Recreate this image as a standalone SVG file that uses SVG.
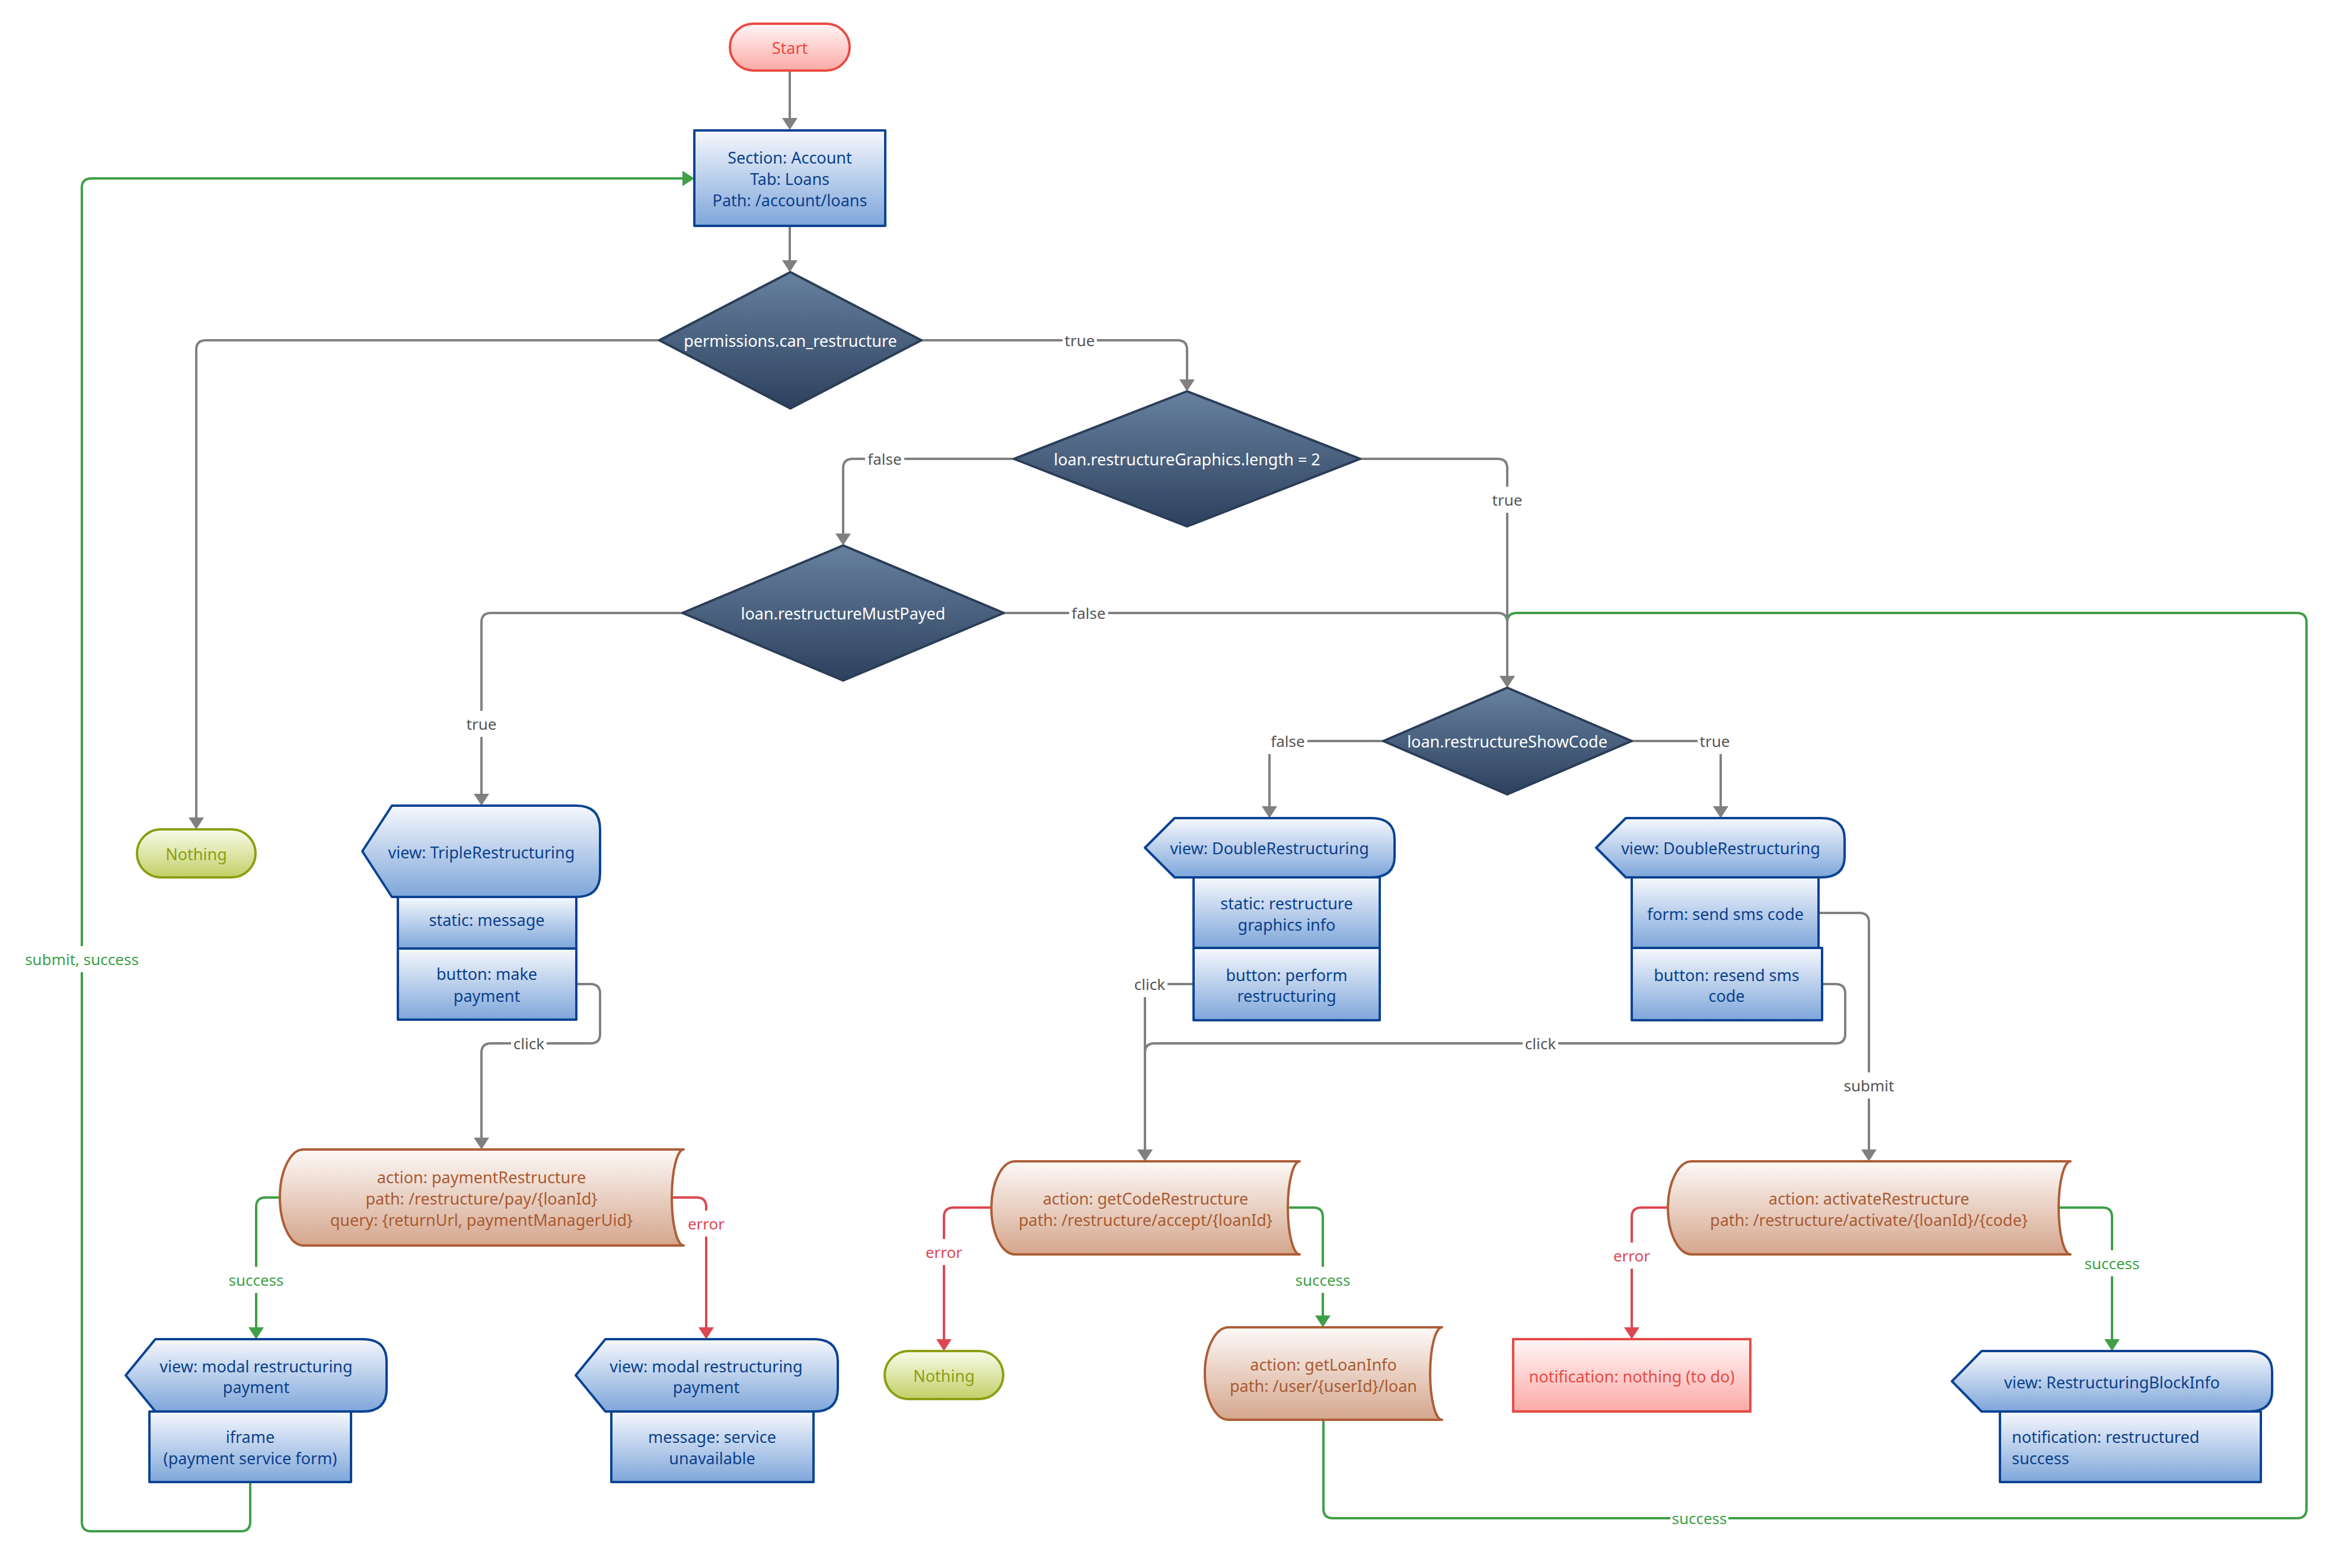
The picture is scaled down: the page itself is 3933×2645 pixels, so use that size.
<svg xmlns="http://www.w3.org/2000/svg" width="3933" height="2645" viewBox="0 0 3933 2645">
  <defs>
    <linearGradient id="gBlue" x1="0" y1="0" x2="0" y2="1">
      <stop offset="0" stop-color="#f6f8fd"/>
      <stop offset="1" stop-color="#7ea6da"/>
    </linearGradient>
    <linearGradient id="gRed" x1="0" y1="0" x2="0" y2="1">
      <stop offset="0" stop-color="#fff6f6"/>
      <stop offset="1" stop-color="#fbaaa6"/>
    </linearGradient>
    <linearGradient id="gOlive" x1="0" y1="0" x2="0" y2="1">
      <stop offset="0" stop-color="#f9fbea"/>
      <stop offset="1" stop-color="#c1d066"/>
    </linearGradient>
    <linearGradient id="gSlate" x1="0" y1="0" x2="0" y2="1">
      <stop offset="0" stop-color="#67819f"/>
      <stop offset="1" stop-color="#2d415e"/>
    </linearGradient>
    <linearGradient id="gBrown" x1="0" y1="0" x2="0" y2="1">
      <stop offset="0" stop-color="#fdf9f7"/>
      <stop offset="1" stop-color="#d5a68d"/>
    </linearGradient>
    <marker id="aGray" markerUnits="userSpaceOnUse" markerWidth="22" markerHeight="28" refX="4" refY="14" orient="auto">
      <path d="M0,1 L20,14 L0,27 Z" fill="#808080"/>
    </marker>
    <marker id="aGreen" markerUnits="userSpaceOnUse" markerWidth="22" markerHeight="28" refX="4" refY="14" orient="auto">
      <path d="M0,1 L20,14 L0,27 Z" fill="#3f9f47"/>
    </marker>
    <marker id="aRed" markerUnits="userSpaceOnUse" markerWidth="22" markerHeight="28" refX="4" refY="14" orient="auto">
      <path d="M0,1 L20,14 L0,27 Z" fill="#dd4752"/>
    </marker>
    <style>
      text { font-family: "Noto Sans", "Open Sans", "DejaVu Sans", sans-serif; font-size: 27px; text-anchor: middle; dominant-baseline: central; }
      .blue { fill: url(#gBlue); stroke: #0b4393; stroke-width: 4; stroke-linejoin: round; }
      .blueT { fill: #0b3f8a; }
      .start { fill: url(#gRed); stroke: #ea4a43; stroke-width: 4; }
      .startT { fill: #ea4a43; }
      .olive { fill: url(#gOlive); stroke: #8c9e12; stroke-width: 4; }
      .oliveT { fill: #8c9e12; }
      .dia { fill: url(#gSlate); stroke: #2b3d57; stroke-width: 4; stroke-linejoin: round; }
      .diaT { fill: #ffffff; }
      .act { fill: url(#gBrown); stroke: #ad5e37; stroke-width: 4; stroke-linejoin: round; }
      .actT { fill: #a85a33; }
      .err { fill: url(#gRed); stroke: #e84a45; stroke-width: 4; }
      .errT { fill: #e84a45; }
      .c { fill: none; stroke-width: 4; }
      .cg { stroke: #808080; }
      .cgr { stroke: #3f9f47; }
      .cr { stroke: #dd4752; }
      .lb { fill: #ffffff; }
      .lgT { fill: #555555; font-size: 26px; }
      .lgrT { fill: #3f9f47; font-size: 26px; }
      .lrT { fill: #dd4752; font-size: 26px; }
    </style>
  </defs>

  <rect x="0" y="0" width="3933" height="2645" fill="#ffffff"/>

  <!-- connectors -->
  <g id="connectors">
    <!-- loop back from getLoanInfo into the show-code decision (drawn under the gray lines) -->
    <path class="c cgr" d="M2232,2395 V2545 Q2232,2561 2248,2561 H3874 Q3890,2561 3890,2545 V1050 Q3890,1034 3874,1034 H2558 Q2542,1034 2542,1050 V1140"/>
    <path class="c cg" marker-end="url(#aGray)" d="M1332,119 V203"/>
    <path class="c cg" marker-end="url(#aGray)" d="M1332,381 V443"/>
    <path class="c cg" marker-end="url(#aGray)" d="M1112,574 H347 Q331,574 331,590 V1383"/>
    <path class="c cg" marker-end="url(#aGray)" d="M1554,574 H1986 Q2002,574 2002,590 V644"/>
    <path class="c cg" marker-end="url(#aGray)" d="M1710,774 H1438 Q1422,774 1422,790 V904"/>
    <path class="c cg" marker-end="url(#aGray)" d="M2294,774 H2526 Q2542,774 2542,790 V1144"/>
    <path class="c cg" marker-end="url(#aGray)" d="M1693,1034 H2526 Q2542,1034 2542,1050 V1144"/>
    <path class="c cg" marker-end="url(#aGray)" d="M1151,1034 H828 Q812,1034 812,1050 V1343"/>
    <path class="c cg" marker-end="url(#aGray)" d="M972,1660 H996 Q1012,1660 1012,1676 V1744 Q1012,1760 996,1760 H828 Q812,1760 812,1776 V1923"/>
    <path class="c cgr" marker-end="url(#aGreen)" d="M472,2020 H448 Q432,2020 432,2036 V2243"/>
    <path class="c cr" marker-end="url(#aRed)" d="M1133,2020 H1175 Q1191,2020 1191,2036 V2243"/>
    <path class="c cgr" marker-end="url(#aGreen)" d="M422,2500 V2567 Q422,2583 406,2583 H154 Q138,2583 138,2567 V317 Q138,301 154,301 H1155"/>
    <path class="c cg" marker-end="url(#aGray)" d="M2333,1250 H2157 Q2141,1250 2141,1266 V1364"/>
    <path class="c cg" marker-end="url(#aGray)" d="M2752,1250 H2886 Q2902,1250 2902,1266 V1364"/>
    <path class="c cg" marker-end="url(#aGray)" d="M2013,1660 H1947 Q1931,1660 1931,1676 V1943"/>
    <path class="c cg" marker-end="url(#aGray)" d="M3073,1660 H3096 Q3112,1660 3112,1676 V1744 Q3112,1760 3096,1760 H1947 Q1931,1760 1931,1776 V1943"/>
    <path class="c cg" marker-end="url(#aGray)" d="M3067,1540 H3136 Q3152,1540 3152,1556 V1943"/>
    <path class="c cr" marker-end="url(#aRed)" d="M1672,2037 H1608 Q1592,2037 1592,2053 V2263"/>
    <path class="c cgr" marker-end="url(#aGreen)" d="M2172,2037 H2215 Q2231,2037 2231,2053 V2223"/>
    <path class="c cr" marker-end="url(#aRed)" d="M2813,2037 H2768 Q2752,2037 2752,2053 V2243"/>
    <path class="c cgr" marker-end="url(#aGreen)" d="M3472,2037 H3546 Q3562,2037 3562,2053 V2263"/>

    <!-- connector labels -->
    <rect class="lb" x="1792" y="552" width="58" height="44"/><text class="lgT" x="1821" y="574">true</text>
    <rect class="lb" x="1459" y="752" width="66" height="44"/><text class="lgT" x="1492" y="774">false</text>
    <rect class="lb" x="2513" y="821" width="58" height="44"/><text class="lgT" x="2542" y="843">true</text>
    <rect class="lb" x="1803" y="1012" width="66" height="44"/><text class="lgT" x="1836" y="1034">false</text>
    <rect class="lb" x="783" y="1199" width="58" height="44"/><text class="lgT" x="812" y="1221">true</text>
    <rect class="lb" x="862" y="1738" width="60" height="44"/><text class="lgT" x="892" y="1760">click</text>
    <rect class="lb" x="383" y="2137" width="98" height="44"/><text class="lgrT" x="432" y="2159">success</text>
    <rect class="lb" x="1156" y="2042" width="70" height="44"/><text class="lrT" x="1191" y="2064">error</text>
    <rect class="lb" x="38" y="1596" width="200" height="44"/><text class="lgrT" x="138" y="1618">submit, success</text>
    <rect class="lb" x="2139" y="1228" width="66" height="44"/><text class="lgT" x="2172" y="1250">false</text>
    <rect class="lb" x="2863" y="1228" width="58" height="44"/><text class="lgT" x="2892" y="1250">true</text>
    <rect class="lb" x="1909" y="1638" width="60" height="44"/><text class="lgT" x="1939" y="1660">click</text>
    <rect class="lb" x="2568" y="1738" width="60" height="44"/><text class="lgT" x="2598" y="1760">click</text>
    <rect class="lb" x="3108" y="1809" width="88" height="44"/><text class="lgT" x="3152" y="1831">submit</text>
    <rect class="lb" x="1557" y="2090" width="70" height="44"/><text class="lrT" x="1592" y="2112">error</text>
    <rect class="lb" x="2182" y="2137" width="98" height="44"/><text class="lgrT" x="2231" y="2159">success</text>
    <rect class="lb" x="2817" y="2539" width="98" height="44"/><text class="lgrT" x="2866" y="2561">success</text>
    <rect class="lb" x="2717" y="2096" width="70" height="44"/><text class="lrT" x="2752" y="2118">error</text>
    <rect class="lb" x="3513" y="2109" width="98" height="44"/><text class="lgrT" x="3562" y="2131">success</text>
  </g>

  <!-- nodes -->
  <g id="start">
    <rect class="start" x="1231" y="40" width="202" height="79" rx="39.5"/>
    <text class="startT" x="1332" y="80">Start</text>
  </g>

  <g id="section">
    <rect class="blue" x="1171" y="220" width="322" height="161"/>
    <text class="blueT" x="1332" y="265">Section: Account</text>
    <text class="blueT" x="1332" y="301">Tab: Loans</text>
    <text class="blueT" x="1332" y="337">Path: /account/loans</text>
  </g>

  <g id="canRestructure">
    <polygon class="dia" points="1333,459 1554,574 1333,689 1112,574"/>
    <text class="diaT" x="1333" y="574">permissions.can_restructure</text>
  </g>

  <g id="graphicsLength">
    <polygon class="dia" points="2002,660 2294,774 2002,888 1710,774"/>
    <text class="diaT" x="2002" y="774">loan.restructureGraphics.length = 2</text>
  </g>

  <g id="mustPayed">
    <polygon class="dia" points="1422,920 1693,1034 1422,1148 1151,1034"/>
    <text class="diaT" x="1422" y="1034">loan.restructureMustPayed</text>
  </g>

  <g id="showCode">
    <polygon class="dia" points="2542,1160 2752,1250 2542,1340 2333,1250"/>
    <text class="diaT" x="2542" y="1250">loan.restructureShowCode</text>
  </g>

  <g id="nothingTop">
    <rect class="olive" x="231" y="1399" width="200" height="81" rx="40.5"/>
    <text class="oliveT" x="331" y="1440">Nothing</text>
  </g>

  <g id="tripleRestructuring">
    <path class="blue" d="M661,1359 H972 Q1012,1359 1012,1399 V1473 Q1012,1513 972,1513 H661 L611,1436 Z"/>
    <text class="blueT" x="812" y="1437">view: TripleRestructuring</text>
    <rect class="blue" x="671" y="1513" width="301" height="87"/>
    <text class="blueT" x="821" y="1551">static: message</text>
    <rect class="blue" x="671" y="1600" width="301" height="120"/>
    <text class="blueT" x="821" y="1642">button: make</text>
    <text class="blueT" x="821" y="1679">payment</text>
  </g>

  <g id="doubleRestructuringInfo">
    <path class="blue" d="M1981,1380 H2312 Q2352,1380 2352,1415 V1445 Q2352,1480 2312,1480 H1981 L1931,1430 Z"/>
    <text class="blueT" x="2141" y="1430">view: DoubleRestructuring</text>
    <rect class="blue" x="2013" y="1480" width="314" height="119"/>
    <text class="blueT" x="2170" y="1523">static: restructure</text>
    <text class="blueT" x="2170" y="1559">graphics info</text>
    <rect class="blue" x="2013" y="1599" width="314" height="122"/>
    <text class="blueT" x="2170" y="1644">button: perform</text>
    <text class="blueT" x="2170" y="1679">restructuring</text>
  </g>

  <g id="doubleRestructuringSms">
    <path class="blue" d="M2742,1380 H3071 Q3111,1380 3111,1415 V1445 Q3111,1480 3071,1480 H2742 L2692,1430 Z"/>
    <text class="blueT" x="2902" y="1430">view: DoubleRestructuring</text>
    <rect class="blue" x="2752" y="1480" width="315" height="119"/>
    <text class="blueT" x="2910" y="1541">form: send sms code</text>
    <rect class="blue" x="2752" y="1599" width="321" height="122"/>
    <text class="blueT" x="2912" y="1644">button: resend sms</text>
    <text class="blueT" x="2912" y="1679">code</text>
  </g>

  <g id="paymentRestructure">
    <path class="act" d="M512,1939 H1153 A20,81 0 0,0 1153,2101 H512 A40,81 0 0,1 512,1939 Z"/>
    <text class="actT" x="812" y="1985">action: paymentRestructure</text>
    <text class="actT" x="812" y="2021">path: /restructure/pay/{loanId}</text>
    <text class="actT" x="812" y="2057">query: {returnUrl, paymentManagerUid}</text>
  </g>

  <g id="modalPayment">
    <path class="blue" d="M262,2259 H612 Q652,2259 652,2297 V2343 Q652,2381 612,2381 H262 L212,2320 Z"/>
    <text class="blueT" x="432" y="2304">view: modal restructuring</text>
    <text class="blueT" x="432" y="2339">payment</text>
    <rect class="blue" x="252" y="2381" width="340" height="119"/>
    <text class="blueT" x="422" y="2423">iframe</text>
    <text class="blueT" x="422" y="2459">(payment service form)</text>
  </g>

  <g id="modalUnavailable">
    <path class="blue" d="M1021,2259 H1373 Q1413,2259 1413,2297 V2343 Q1413,2381 1373,2381 H1021 L971,2320 Z"/>
    <text class="blueT" x="1191" y="2304">view: modal restructuring</text>
    <text class="blueT" x="1191" y="2339">payment</text>
    <rect class="blue" x="1031" y="2381" width="341" height="119"/>
    <text class="blueT" x="1201" y="2423">message: service</text>
    <text class="blueT" x="1201" y="2459">unavailable</text>
  </g>

  <g id="getCodeRestructure">
    <path class="act" d="M1712,1959 H2192 A20,78.5 0 0,0 2192,2116 H1712 A40,78.5 0 0,1 1712,1959 Z"/>
    <text class="actT" x="1932" y="2021">action: getCodeRestructure</text>
    <text class="actT" x="1932" y="2057">path: /restructure/accept/{loanId}</text>
  </g>

  <g id="nothingError">
    <rect class="olive" x="1492" y="2279" width="200" height="81" rx="40.5"/>
    <text class="oliveT" x="1592" y="2320">Nothing</text>
  </g>

  <g id="getLoanInfo">
    <path class="act" d="M2072,2239 H2432 A20,78 0 0,0 2432,2395 H2072 A40,78 0 0,1 2072,2239 Z"/>
    <text class="actT" x="2232" y="2301">action: getLoanInfo</text>
    <text class="actT" x="2232" y="2337">path: /user/{userId}/loan</text>
  </g>

  <g id="activateRestructure">
    <path class="act" d="M2853,1959 H3492 A20,78.5 0 0,0 3492,2116 H2853 A40,78.5 0 0,1 2853,1959 Z"/>
    <text class="actT" x="3152" y="2021">action: activateRestructure</text>
    <text class="actT" x="3152" y="2057">path: /restructure/activate/{loanId}/{code}</text>
  </g>

  <g id="notificationNothing">
    <rect class="err" x="2552" y="2259" width="400" height="122"/>
    <text class="errT" x="2752" y="2321">notification: nothing (to do)</text>
  </g>

  <g id="restructuringBlockInfo">
    <path class="blue" d="M3342,2279 H3792 Q3832,2279 3832,2314 V2346 Q3832,2381 3792,2381 H3342 L3292,2330 Z"/>
    <text class="blueT" x="3562" y="2331">view: RestructuringBlockInfo</text>
    <rect class="blue" x="3373" y="2381" width="440" height="119"/>
    <text class="blueT" x="3393" y="2423" style="text-anchor:start">notification: restructured</text>
    <text class="blueT" x="3393" y="2459" style="text-anchor:start">success</text>
  </g>
</svg>
